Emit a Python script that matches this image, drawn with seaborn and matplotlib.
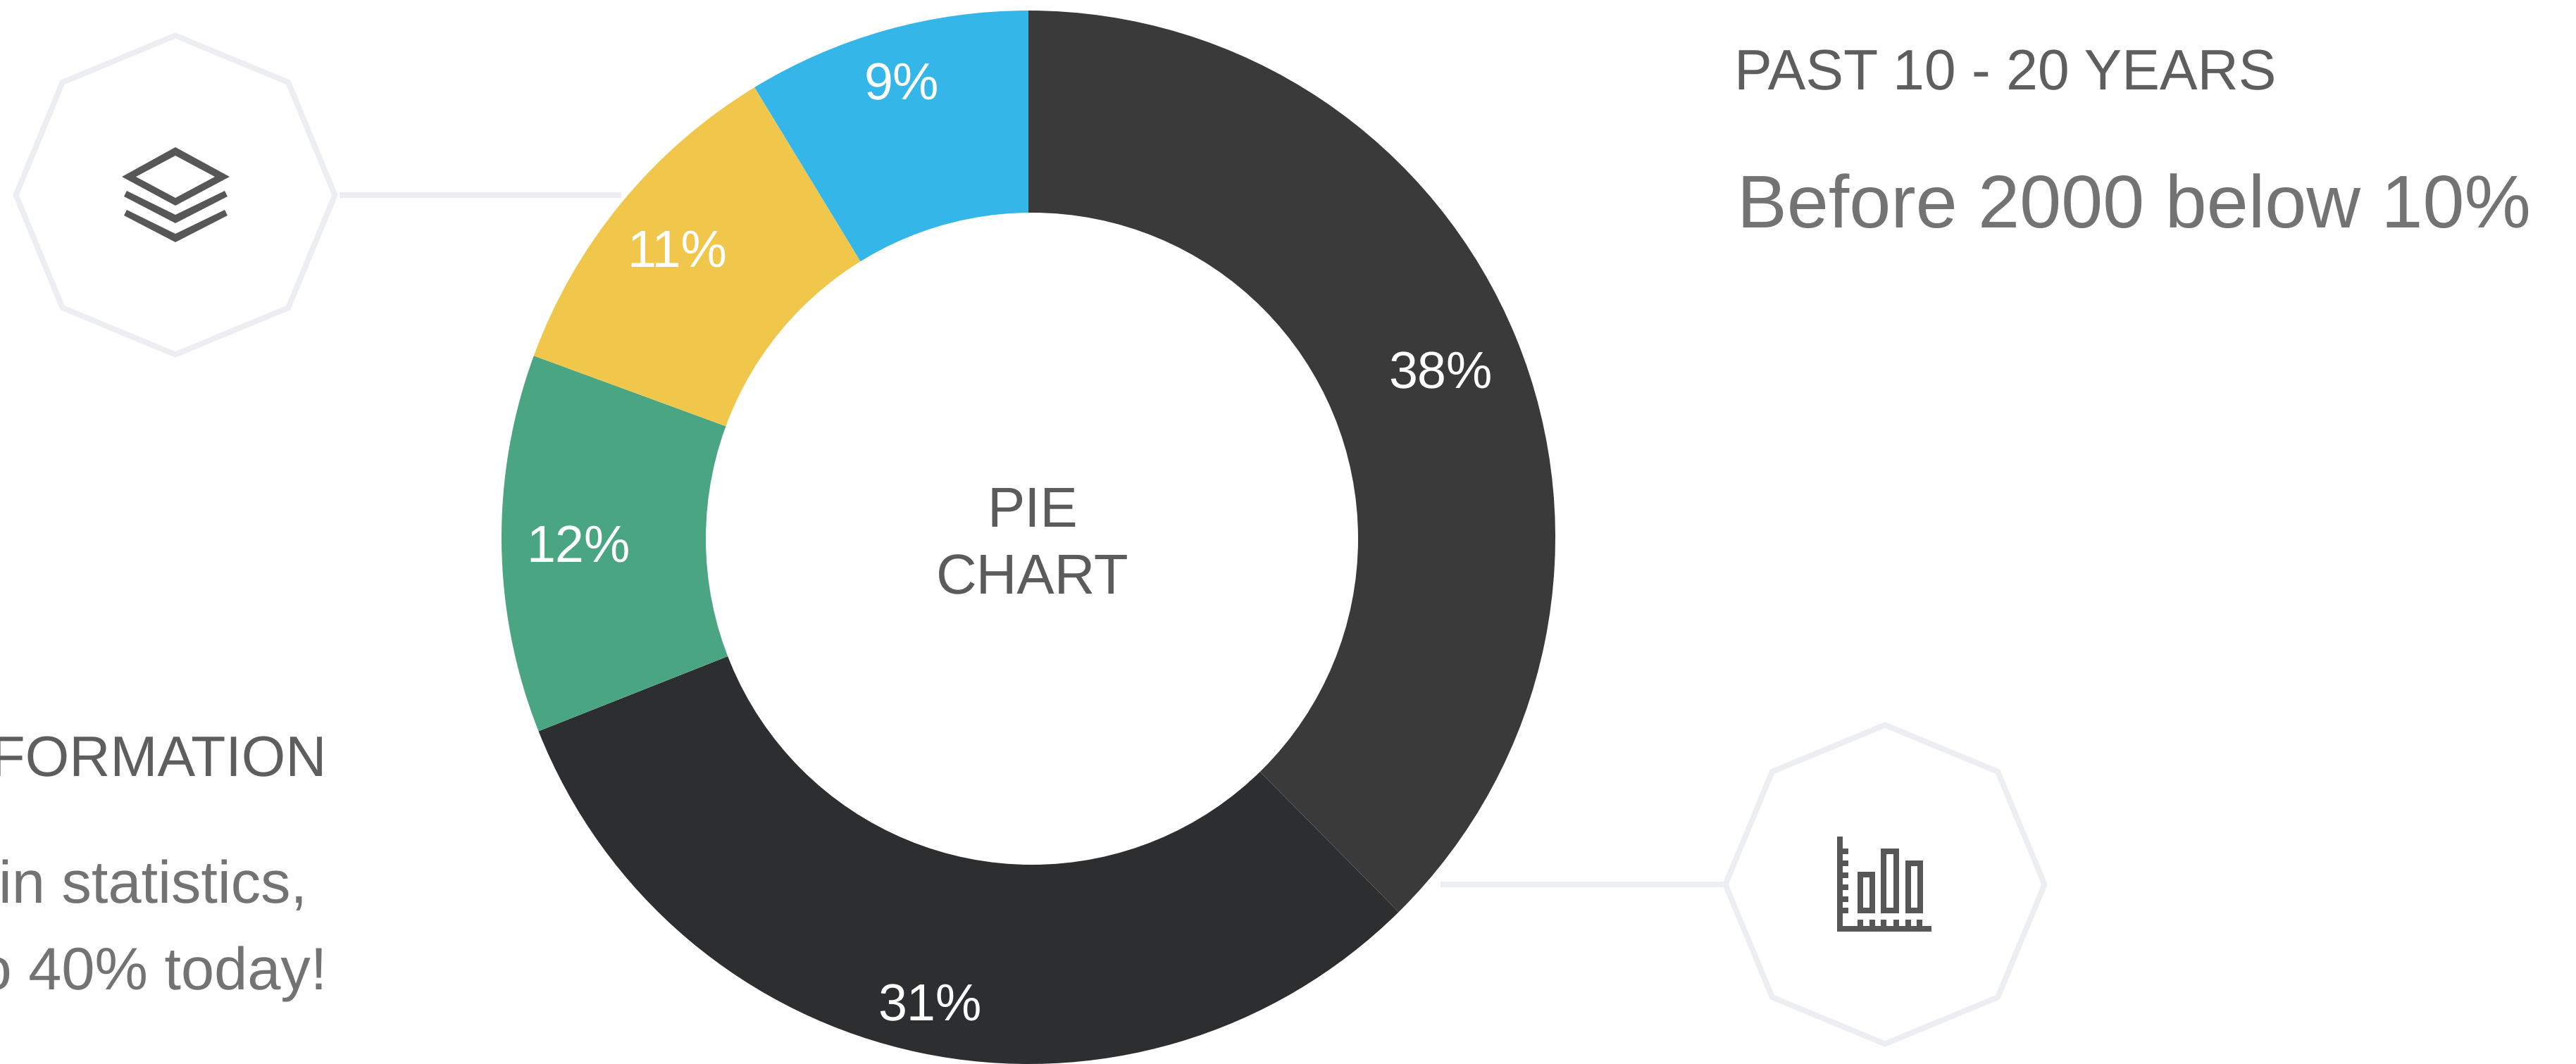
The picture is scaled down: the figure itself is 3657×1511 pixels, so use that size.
import numpy as np
import seaborn as sns
import matplotlib.pyplot as plt
from matplotlib.patches import Circle, Polygon, Rectangle

# chart values
slice_values = [37.6, 31.4, 11.6, 10.7, 8.7]
slice_colors = ["#3a3a3a", "#2d2e30", "#4aa582", "#f1c74b", "#35b6e9"]
center_lines = ["PIE", "CHART"]
heading_right = "PAST 10 - 20 YEARS"
body_right = "Before 2000 below 10%"
heading_left = "INFORMATION"
body_left = ["in statistics,", "to 40% today!"]

W, H = 3657, 1511
CX, CY, R_OUT = 1460, 763, 748
HOLE_X, HOLE_Y, HOLE_R = 1465, 765, 463
RING = "#eceef2"
ICON = "#575757"
# where the percent labels sit, in picture pixels
label_spots = [(2045, 532), (1320, 1430), (821, 779), (961, 359), (1280, 122)]


def fy(py):
    # picture pixels count from the top
    return H - py


def octagon(ax, cx, cy, r=226.5):
    ang = np.deg2rad(np.arange(0, 360, 45))
    pts = np.column_stack([cx + r * np.cos(ang), fy(cy) + r * np.sin(ang)])
    ax.add_patch(Polygon(pts, closed=True, fill=False, ec=RING, lw=5.76, joinstyle="miter"))


def solid(ax, pts, color=ICON):
    ax.add_patch(Polygon([(x, fy(y)) for x, y in pts], closed=True, fc=color, ec="none"))


def box(ax, x0, y0, x1, y1, color=ICON):
    ax.add_patch(Rectangle((x0, fy(y1)), x1 - x0, y1 - y0, fc=color, ec="none"))


sns.set_theme(style="white")
plt.rcParams["font.family"] = ["Liberation Sans", "DejaVu Sans"]
plt.rcParams["text.hinting"] = "none"

fig = plt.figure(figsize=(W / 100, H / 100), dpi=100, facecolor="white")
ax = fig.add_axes([0, 0, 1, 1])

wedges, _, pcts = ax.pie(
    slice_values,
    colors=sns.color_palette(slice_colors),
    startangle=90,
    counterclock=False,
    center=(CX, fy(CY)),
    radius=R_OUT,
    wedgeprops={"linewidth": 0},
    autopct="%.0f%%",
    textprops={"color": "white", "fontsize": 53},
)
for pct, (x, y) in zip(pcts, label_spots):
    pct.set_position((x, fy(y)))
    pct.set_zorder(5)
ax.add_patch(Circle((HOLE_X, fy(HOLE_Y)), HOLE_R, fc="white", ec="none", zorder=4))
ax.set_xlim(0, W)
ax.set_ylim(0, H)
ax.axis("off")

# connector lines and the two octagons
ax.plot([482, 882], [fy(277), fy(277)], color=RING, lw=5.76, solid_capstyle="butt")
ax.plot([2045, 2446], [fy(1256), fy(1256)], color=RING, lw=5.76, solid_capstyle="butt")
octagon(ax, 249, 277)
octagon(ax, 2676, 1256)

# stacked layers icon
solid(ax, [(173, 251), (249, 209), (326, 251), (249, 292)])
solid(ax, [(193, 251), (249, 221), (305, 251), (249, 281)], "white")
for dy in (0, 27):
    solid(ax, [(180, 271 + dy), (249, 305 + dy), (319, 271 + dy),
               (323, 279 + dy), (249, 317 + dy), (176, 279 + dy)])

# bar chart icon
box(ax, 2608, 1188, 2616, 1323)
box(ax, 2608, 1315, 2742, 1323)
for y in (1205, 1222, 1239, 1256, 1273, 1289):
    box(ax, 2616, y, 2624, y + 8)
for x in (2637, 2654, 2670, 2688, 2705, 2721):
    box(ax, x, 1306, x + 8, 1315)
for x0, x1, top in ((2637, 2662, 1238), (2670, 2696, 1205), (2705, 2730, 1222)):
    box(ax, x0, top, x1, 1297)
    box(ax, x0 + 8, top + 8, x1 - 8, 1289, "white")

# text
ax.text(1466, fy(748), center_lines[0], color="#5b5b5b", fontsize=57.5, ha="center", va="baseline", zorder=5)
ax.text(1466, fy(843), center_lines[1], color="#5b5b5b", fontsize=57.5, ha="center", va="baseline", zorder=5)
ax.text(2462, fy(127), heading_right, color="#5e5e5e", fontsize=58, va="baseline")
ax.text(2466, fy(323), body_right, color="#737373", fontsize=76.4, va="baseline")
ax.text(464, fy(1102), heading_left, color="#5e5e5e", fontsize=58, ha="right", va="baseline")
ax.text(436, fy(1282), body_left[0], color="#737373", fontsize=61, ha="right", va="baseline")
ax.text(464, fy(1405), body_left[1], color="#737373", fontsize=61, ha="right", va="baseline")

fig.savefig("out.png", dpi=100, facecolor="white")
